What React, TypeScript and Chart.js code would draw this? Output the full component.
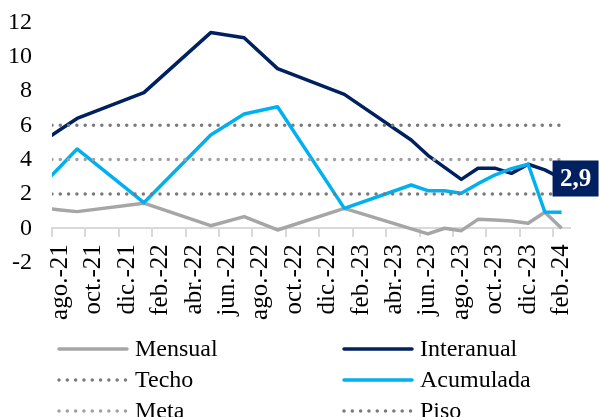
import React, { useEffect, useRef } from 'react';
import { Chart, registerables } from 'chart.js';

Chart.register(...registerables);

const FONT = "'Liberation Serif', 'Times New Roman', serif";

// jul.-21 is a leading month hidden left of the axis start (its segment is clipped)
const months = [
  'jul.-21', 'ago.-21', 'sep.-21', 'oct.-21', 'nov.-21', 'dic.-21',
  'ene.-22', 'feb.-22', 'mar.-22', 'abr.-22', 'may.-22', 'jun.-22',
  'jul.-22', 'ago.-22', 'sep.-22', 'oct.-22', 'nov.-22', 'dic.-22',
  'ene.-23', 'feb.-23', 'mar.-23', 'abr.-23', 'may.-23', 'jun.-23',
  'jul.-23', 'ago.-23', 'sep.-23', 'oct.-23', 'nov.-23', 'dic.-23',
  'ene.-24', 'feb.-24',
];

const mensual = [
  1.17, 1.07, 0.97, null, null, null,
  1.46, null, null, null, 0.15, null,
  0.68, null, -0.1, null, null, null,
  1.16, null, null, null, null, -0.33,
  0.0, -0.14, 0.52, 0.48, 0.42, 0.29,
  0.93, 0.0,
];

const interanual = [
  5.1, 5.75, 6.4, null, null, null,
  7.9, null, null, null, 11.4, null,
  11.1, null, 9.3, null, null, null,
  7.8, null, null, null, 5.14, 4.25,
  3.55, 2.85, 3.5, 3.5, 3.2, 3.73,
  3.4, 2.9,
];

const acumulada = [
  2.6, 3.6, 4.62, null, null, null,
  1.49, null, null, null, 5.43, null,
  6.66, null, 7.08, null, null, null,
  1.16, null, null, null, 2.52, 2.19,
  2.19, 2.04, 2.6, 3.1, 3.47, 3.73,
  0.95, 0.93,
];

const techo = [
  6, 6, 6, 6, 6, 6, 6, 6, 6, 6, 6, 6, 6, 6, 6, 6,
  6, 6, 6, 6, 6, 6, 6, 6, 6, 6, 6, 6, 6, 6, 6, 6,
];
const meta = [
  4, 4, 4, 4, 4, 4, 4, 4, 4, 4, 4, 4, 4, 4, 4, 4,
  4, 4, 4, 4, 4, 4, 4, 4, 4, 4, 4, 4, 4, 4, 4, 4,
];
const piso = [
  2, 2, 2, 2, 2, 2, 2, 2, 2, 2, 2, 2, 2, 2, 2, 2,
  2, 2, 2, 2, 2, 2, 2, 2, 2, 2, 2, 2, 2, 2, 2, 2,
];

const yTicks = [-2, 0, 2, 4, 6, 8, 10, 12];

const NAVY = '#002060';
const CYAN = '#00B0F0';
const GRAY = '#A6A6A6';
const DARKDOT = '#7A7A7A';
const LIGHTDOT = '#A0A0A0';
const DOT_DASH = [0.01, 8.3];

const lastLabelPlugin = {
  id: 'lastLabel',
  afterDatasetsDraw(chart: any) {
    const idx = chart.data.datasets.findIndex((d: any) => d.label === 'Interanual');
    if (idx < 0) return;
    const data = chart.data.datasets[idx].data;
    let last = data.length - 1;
    while (last > 0 && data[last] == null) last--;
    const pt = chart.getDatasetMeta(idx).data[last];
    if (!pt) return;
    const ctx = chart.ctx;
    const text = Number(data[last]).toFixed(1).replace('.', ',');
    const bx = pt.x - 9;
    const by = pt.y - 18;
    ctx.save();
    ctx.fillStyle = NAVY;
    ctx.fillRect(bx, by, 46, 36);
    ctx.fillStyle = '#FFFFFF';
    ctx.font = `bold 25px ${FONT}`;
    ctx.textAlign = 'center';
    ctx.textBaseline = 'middle';
    ctx.fillText(text, bx + 23, by + 19);
    ctx.restore();
  },
};

const legendPlugin = {
  id: 'customLegend',
  afterDraw(chart: any) {
    const ctx = chart.ctx;
    const ds = chart.data.datasets;
    const colX = [58, 343];
    const rowY = [349, 380, 411];
    const sampleW = 70;
    ctx.save();
    ds.forEach((d: any, i: number) => {
      const col = i % 2;
      const row = Math.floor(i / 2);
      const x = colX[col];
      const y = rowY[row];
      ctx.beginPath();
      ctx.strokeStyle = d.borderColor;
      ctx.lineWidth = d.borderWidth;
      ctx.lineCap = 'round';
      ctx.setLineDash(d.borderDash || []);
      ctx.moveTo(x + 1, y);
      ctx.lineTo(x + sampleW - 1, y);
      ctx.stroke();
      ctx.setLineDash([]);
      ctx.fillStyle = '#000000';
      ctx.font = `24px ${FONT}`;
      ctx.textAlign = 'left';
      ctx.textBaseline = 'middle';
      ctx.fillText(d.label, x + sampleW + 7, y + 1);
    });
    ctx.restore();
  },
};

export default function App() {
  const canvasRef = useRef<HTMLCanvasElement | null>(null);

  useEffect(() => {
    document.body.style.margin = '0';
    const canvas = canvasRef.current;
    if (!canvas) return;

    const lineBase = {
      pointRadius: 0,
      pointHoverRadius: 0,
      tension: 0,
      spanGaps: true,
      borderJoinStyle: 'round' as const,
      clip: { left: 0, top: 6, right: 6, bottom: 6 },
    };

    const chart = new Chart(canvas, {
      type: 'line',
      data: {
        labels: months,
        datasets: [
          { ...lineBase, label: 'Mensual', data: mensual, borderColor: GRAY, borderWidth: 3.5, order: 6 },
          { ...lineBase, label: 'Interanual', data: interanual, borderColor: NAVY, borderWidth: 3.5, order: 5 },
          { ...lineBase, label: 'Techo', data: techo, borderColor: DARKDOT, borderWidth: 3.5, borderDash: DOT_DASH, borderCapStyle: 'round', order: 4 },
          { ...lineBase, label: 'Acumulada', data: acumulada, borderColor: CYAN, borderWidth: 3.5, order: 3 },
          { ...lineBase, label: 'Meta', data: meta, borderColor: LIGHTDOT, borderWidth: 3.5, borderDash: DOT_DASH, borderCapStyle: 'round', order: 2 },
          { ...lineBase, label: 'Piso', data: piso, borderColor: DARKDOT, borderWidth: 3.5, borderDash: DOT_DASH, borderCapStyle: 'round', order: 1 },
        ],
      },
      options: {
        responsive: false,
        animation: false,
        devicePixelRatio: 1,
        events: [],
        layout: { padding: { left: 0, top: 22.3, right: 27.8, bottom: 154.4 } },
        plugins: {
          legend: { display: false },
          tooltip: { enabled: false },
          title: { display: false },
        },
        scales: {
          x: {
            type: 'category',
            min: months[1],
            offset: true,
            position: { y: 0 } as any,
            grid: {
              offset: true,
              drawOnChartArea: false,
              drawTicks: true,
              tickLength: 8,
              lineWidth: 2,
              color: (c: any) => (c.index % 2 === 0 ? '#D9D9D9' : 'rgba(0,0,0,0)'),
              tickColor: (c: any) => (c.index % 2 === 0 ? '#D9D9D9' : 'rgba(0,0,0,0)'),
            },
            border: { display: true, color: '#D9D9D9', width: 2 },
            ticks: {
              autoSkip: false,
              maxRotation: 90,
              minRotation: 90,
              padding: 8,
              color: '#000000',
              font: { family: FONT, size: 25 },
              callback: function (this: any, value: any, index: number) {
                return index % 2 === 0 ? this.getLabelForValue(value) : '';
              },
            },
          },
          y: {
            type: 'linear',
            min: yTicks[0],
            max: yTicks[yTicks.length - 1],
            afterFit: (scale: any) => {
              scale.width = 52;
            },
            afterBuildTicks: (scale: any) => {
              scale.ticks = yTicks.map((v) => ({ value: v }));
            },
            grid: {
              display: true,
              drawOnChartArea: false,
              drawTicks: true,
              tickLength: 13,
              color: 'rgba(0,0,0,0)',
            },
            border: { display: false },
            ticks: {
              padding: 7,
              color: '#000000',
              font: { family: FONT, size: 24 },
            },
          },
        },
      },
      plugins: [lastLabelPlugin, legendPlugin],
    });

    return () => {
      chart.destroy();
    };
  }, []);

  return (
    <div style={{ position: 'fixed', left: 0, top: 0, width: 600, height: 417, background: '#FFFFFF' }}>
      <canvas ref={canvasRef} width={600} height={417} style={{ display: 'block' }} />
    </div>
  );
}
